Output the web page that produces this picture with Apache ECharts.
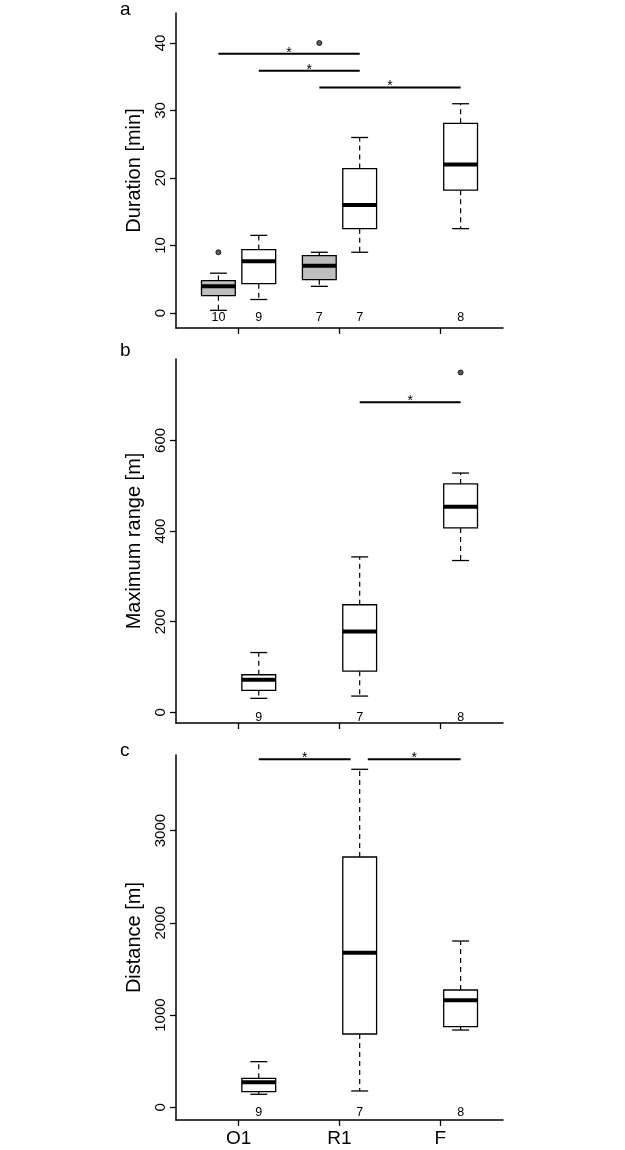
<!DOCTYPE html>
<html><head><meta charset="utf-8">
<script src="https://cdn.jsdelivr.net/npm/echarts@6/dist/echarts.min.js"></script>
<style>html,body{margin:0;padding:0;background:#fff}#c{width:625px;height:1150px}</style>
</head><body><div id="c"></div><script>
// ---------- data ----------
const categories = ['O1', 'R1', 'F'];
const groupTicks = [1, 2, 3];

// panel a: Duration [min]  (grey = paired left box, white = right box)
const durPos = [0.8, 1.2, 1.8, 2.2, 3.2];
const durGrey = [1, 0, 1, 0, 0];
const durStats = [ // [lower whisker, Q1, median, Q3, upper whisker]
  [0.4, 2.57, 3.95, 4.8, 5.9],
  [2.0, 4.35, 7.65, 9.4, 11.5],
  [3.95, 4.94, 7.0, 8.5, 9.0],
  [9.0, 12.5, 16.0, 21.4, 26.0],
  [12.5, 18.2, 22.0, 28.1, 31.0]
];
const durOutliers = [[0.8, 9.0], [1.8, 40.0]];
const durN = [10, 9, 7, 7, 8];
const durSig = [[0.8, 2.2, 38.4], [1.2, 2.2, 35.9], [1.8, 3.2, 33.4]];
const durTicks = [0, 10, 20, 30, 40];

// panel b: Maximum range [m]
const rangePos = [1.2, 2.2, 3.2];
const rangeGrey = [0, 0, 0];
const rangeStats = [
  [31, 48.5, 72, 83, 132],
  [36, 91, 178.7, 237.5, 343],
  [335, 407, 453.7, 504, 528]
];
const rangeOutliers = [[3.2, 750]];
const rangeN = [9, 7, 8];
const rangeSig = [[2.2, 3.2, 684]];
const rangeTicks = [0, 200, 400, 600];

// panel c: Distance [m]
const distPos = [1.2, 2.2, 3.2];
const distGrey = [0, 0, 0];
const distStats = [
  [141, 170, 271, 314, 495],
  [177, 795, 1677, 2714, 3665],
  [838, 875, 1160, 1272, 1803]
];
const distOutliers = [];
const distN = [9, 7, 8];
const distSig = [[1.2, 2.11, 3773], [2.28, 3.2, 3773]];
const distTicks = [0, 1000, 2000, 3000];

// ---------- rendering ----------
const FONT = 'Liberation Sans, Arial, sans-serif';
const BOX_W = 0.335;

function renderBox(params, api) {
  const x = api.value(0);
  const lo = api.coord([x, api.value(1)]);
  const q1 = api.coord([x, api.value(2)]);
  const md = api.coord([x, api.value(3)]);
  const q3 = api.coord([x, api.value(4)]);
  const hi = api.coord([x, api.value(5)]);
  const fill = api.value(6) ? '#bebebe' : '#ffffff';
  const w = api.size([BOX_W, 0])[0];
  const cx = lo[0];
  const dash = {stroke: '#000', lineWidth: 1.2, lineDash: [5, 4]};
  const solid = {stroke: '#000', lineWidth: 1.3};
  return {type: 'group', children: [
    {type: 'line', shape: {x1: cx, y1: q3[1], x2: cx, y2: hi[1]}, style: dash},
    {type: 'line', shape: {x1: cx, y1: q1[1], x2: cx, y2: lo[1]}, style: dash},
    {type: 'line', shape: {x1: cx - w / 4, y1: hi[1], x2: cx + w / 4, y2: hi[1]}, style: solid},
    {type: 'line', shape: {x1: cx - w / 4, y1: lo[1], x2: cx + w / 4, y2: lo[1]}, style: solid},
    {type: 'rect', shape: {x: cx - w / 2, y: q3[1], width: w, height: q1[1] - q3[1]},
      style: {fill: fill, stroke: '#000', lineWidth: 1.3}},
    {type: 'line', shape: {x1: cx - w / 2, y1: md[1], x2: cx + w / 2, y2: md[1]},
      style: {stroke: '#000', lineWidth: 4}}
  ]};
}

function renderSig(params, api) {
  const a = api.coord([api.value(0), api.value(2)]);
  const b = api.coord([api.value(1), api.value(2)]);
  return {type: 'group', children: [
    {type: 'line', shape: {x1: a[0], y1: a[1], x2: b[0], y2: b[1]}, style: {stroke: '#000', lineWidth: 2}},
    {type: 'text', x: (a[0] + b[0]) / 2, y: a[1] - 1,
      style: {text: '*', font: '14px ' + FONT, fill: '#000', align: 'center', verticalAlign: 'middle'}}
  ]};
}

function renderCount(params, api) {
  const p = api.coord([api.value(0), 0]);
  return {type: 'text', x: p[0], y: p[1] + 5,
    style: {text: String(api.value(1)), font: '12.5px ' + FONT, fill: '#000', align: 'center', verticalAlign: 'middle'}};
}

const grids = [
  {left: 176, width: 327, top: 13, height: 315},
  {left: 176, width: 327, top: 359, height: 364},
  {left: 176, width: 327, top: 755, height: 365}
];
const yRanges = [[-2.22, 44.44], [-23.4, 779.6], [-137.7, 3820]];
const yNames = ['Duration [min]', 'Maximum range [m]', 'Distance [m]'];
const yTicks = [durTicks, rangeTicks, distTicks];
const panels = [
  {pos: durPos, grey: durGrey, stats: durStats, out: durOutliers, n: durN, sig: durSig},
  {pos: rangePos, grey: rangeGrey, stats: rangeStats, out: rangeOutliers, n: rangeN, sig: rangeSig},
  {pos: distPos, grey: distGrey, stats: distStats, out: distOutliers, n: distN, sig: distSig}
];

const axisLine = {show: true, onZero: false, lineStyle: {color: '#000', width: 1.5}};
const xAxes = grids.map((g, i) => ({
  type: 'value', gridIndex: i, min: 0.38, max: 3.62,
  axisLine: axisLine,
  axisTick: {show: true, inside: false, length: 6, customValues: groupTicks, lineStyle: {color: '#000', width: 1.3}},
  axisLabel: {show: i === 2, customValues: groupTicks, margin: 9,
    formatter: v => categories[groupTicks.indexOf(v)] || '',
    fontFamily: FONT, fontSize: 19, color: '#000'},
  splitLine: {show: false}
}));
const yAxes = grids.map((g, i) => ({
  type: 'value', gridIndex: i, min: yRanges[i][0], max: yRanges[i][1],
  name: yNames[i], nameLocation: 'middle', nameRotate: 90, nameGap: 32,
  nameTextStyle: {fontFamily: FONT, fontSize: 20, color: '#000'},
  axisLine: axisLine,
  axisTick: {show: true, inside: false, length: 6, customValues: yTicks[i], lineStyle: {color: '#000', width: 1.3}},
  axisLabel: {show: true, customValues: yTicks[i], rotate: 90, margin: 8,
    formatter: v => String(v),
    fontFamily: FONT, fontSize: 15, color: '#000'},
  splitLine: {show: false}
}));

const series = [];
panels.forEach((p, i) => {
  series.push({type: 'custom', xAxisIndex: i, yAxisIndex: i, renderItem: renderBox,
    data: p.stats.map((s, k) => [p.pos[k], ...s, p.grey[k]])});
  series.push({type: 'scatter', xAxisIndex: i, yAxisIndex: i, data: p.out,
    symbol: 'circle', symbolSize: 5,
    itemStyle: {color: '#333', borderColor: '#000', borderWidth: 1}});
  series.push({type: 'custom', xAxisIndex: i, yAxisIndex: i, renderItem: renderSig, data: p.sig});
  series.push({type: 'custom', xAxisIndex: i, yAxisIndex: i, renderItem: renderCount,
    data: p.n.map((v, k) => [p.pos[k], v])});
});

const chart = echarts.init(document.getElementById('c'), null, {renderer: 'canvas'});
chart.setOption({
  animation: false,
  backgroundColor: '#fff',
  grid: grids,
  xAxis: xAxes,
  yAxis: yAxes,
  series: series,
  graphic: [
    {type: 'text', left: 120, top: 0, style: {text: 'a', font: '19px ' + FONT, fill: '#000'}},
    {type: 'text', left: 120, top: 341, style: {text: 'b', font: '19px ' + FONT, fill: '#000'}},
    {type: 'text', left: 120, top: 741, style: {text: 'c', font: '19px ' + FONT, fill: '#000'}}
  ]
});
</script></body></html>
